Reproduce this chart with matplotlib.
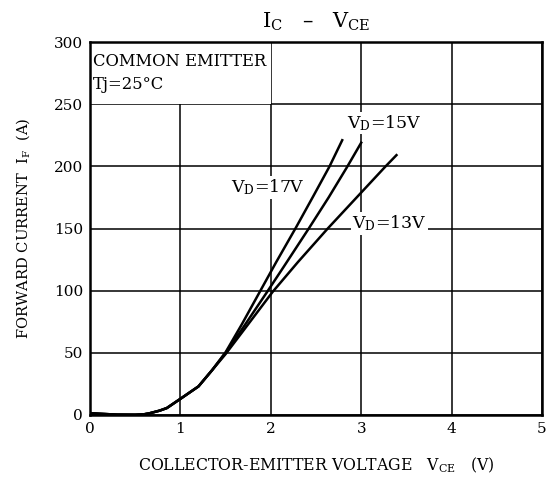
import matplotlib
matplotlib.use("Agg")
import matplotlib.pyplot as plt
from matplotlib.patches import Rectangle

plt.rcParams["font.family"] = "DejaVu Serif"
plt.rcParams["mathtext.fontset"] = "dejavuserif"

# shared low-current part of all three curves
vce_low = [0.0, 0.1, 0.3, 0.5, 0.6, 0.66, 0.77, 0.85, 1.0, 1.2, 1.35]
ic_low = [1.5, 1.0, 0.3, 0.2, 0.6, 1.4, 3.5, 5.6, 13, 23, 36]

vce_17 = [1.5, 1.68, 1.87, 2.06, 2.28, 2.47, 2.65, 2.79]
ic_17 = [50.5, 73, 98, 123, 151, 176, 200, 221]
vce_15 = [1.5, 1.7, 1.95, 2.15, 2.42, 2.64, 2.84, 3.0]
ic_15 = [50, 71, 98, 120, 150, 175, 199, 219]
vce_13 = [1.5, 1.75, 2.02, 2.3, 2.63, 2.95, 3.27, 3.39]
ic_13 = [49, 73, 99, 123, 150, 175, 200, 209]

curves = [
    ("V$_{\\mathrm{D}}$=17V", vce_17, ic_17, (1.96, 183)),
    ("V$_{\\mathrm{D}}$=15V", vce_15, ic_15, (3.26, 235)),
    ("V$_{\\mathrm{D}}$=13V", vce_13, ic_13, (3.31, 154)),
]

fig = plt.figure(figsize=(5.46, 4.79), dpi=100)
ax = fig.add_axes([90 / 546, 1 - 415 / 479, 452 / 546, 373 / 479])

for label, xs, ys, pos in curves:
    ax.plot(vce_low + xs, ic_low + ys, color="black", lw=1.8, zorder=3,
            solid_joinstyle="round")
    ax.text(pos[0], pos[1], label, fontsize=12.5, ha="center", va="center", zorder=4,
            bbox=dict(facecolor="white", edgecolor="none", pad=1))

ax.set_xlim(0, 5)
ax.set_ylim(0, 300)
ax.set_xticks(range(0, 6))
ax.set_yticks(range(0, 301, 50))
ax.grid(True, color="black", lw=1.1)
ax.set_axisbelow(True)
ax.tick_params(length=0, labelsize=11, pad=5)
for sp in ax.spines.values():
    sp.set_linewidth(1.8)

# white box for the condition text
ax.add_patch(Rectangle((0, 250), 2, 50, facecolor="white", edgecolor="none", zorder=1.5))
ax.text(0.03, 284, "COMMON EMITTER", fontsize=11.8, va="center", zorder=4)
ax.text(0.03, 266, "Tj=25°C", fontsize=11.8, va="center", zorder=4)

ax.set_title("I$_{\\mathrm{C}}$   \u2013   V$_{\\mathrm{CE}}$", fontsize=15, pad=10)
ax.set_xlabel("COLLECTOR-EMITTER VOLTAGE   V$_{\\mathrm{CE}}$   (V)", fontsize=11.3, labelpad=14)
ax.set_ylabel("FORWARD CURRENT  I$_{\\mathrm{F}}$  (A)", fontsize=10.6, labelpad=16)

fig.savefig("out.png", dpi=100)
